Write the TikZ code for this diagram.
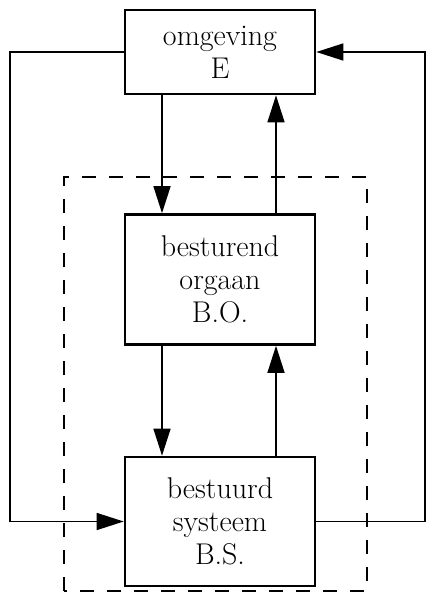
\documentclass[tikz,border=0pt]{standalone}
\usetikzlibrary{arrows.meta}
\begin{document}
\begin{tikzpicture}[x=1pt,y=-1pt,
  blok/.style={draw,line width=2.6pt,minimum width=190pt,align=center,inner sep=0pt,
    font=\fontsize{30}{33}\selectfont},
  verb/.style={line width=1.4pt},
  pijl/.style={verb,-{Triangle[length=27pt,width=17pt]}},
  grens/.style={line width=1.8pt,dash pattern=on 14pt off 13pt}]
\useasboundingbox (0,0) rectangle (426,594);
\node[blok,minimum height=84pt] (E) at (220,52) {omgeving\\E};
\node[blok,minimum height=130pt] (BO) at (220,279.5) {besturend\\orgaan\\B.O.};
\node[blok,minimum height=129pt] (BS) at (220,521.5) {bestuurd\\systeem\\B.S.};
\draw[grens] (64,591) -- (64,177) -- (367,177) -- (367,591) -- cycle;
% vertical connectors
\draw[pijl] (E.south -| 162,0) -- (BO.north -| 162,0);
\draw[pijl] (BO.north -| 276,0) -- (E.south -| 276,0);
\draw[pijl] (BO.south -| 162,0) -- (BS.north -| 162,0);
\draw[pijl] (BS.north -| 276,0) -- (BO.south -| 276,0);
% loops
\coordinate (lt) at (10,52);
\coordinate (lb) at (10,521.5);
\coordinate (rt) at (425,52);
\coordinate (rb) at (425,521.5);
\draw[pijl] (E.west) -- (lt) -- (lb) -- (BS.west);
\draw[pijl] (BS.east) -- (rb) -- (rt) -- (E.east);
\end{tikzpicture}
\end{document}
